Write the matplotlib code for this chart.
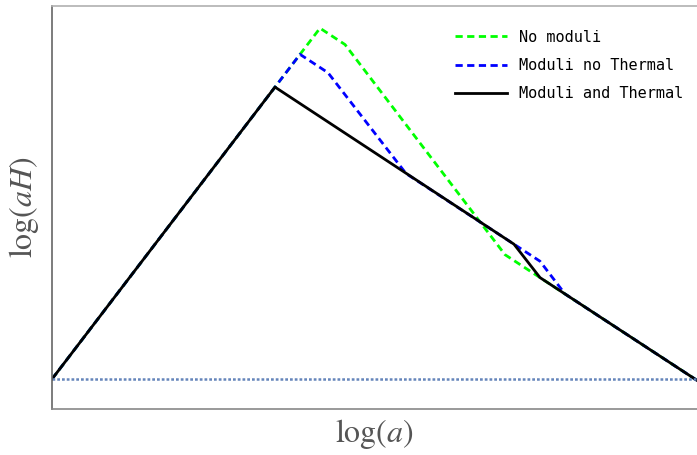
import matplotlib
matplotlib.use("Agg")
import matplotlib.pyplot as plt

# log(a) / log(aH) break points
x_none = [0, 22.3, 26.8, 29.3, 45.3, 48.8, 64.5]
y_none = [0, 22.3, 26.8, 25.55, 9.5, 7.75, -0.1]

x_mod = [0, 22.3, 24.8, 27.6, 35.4, 46.2, 48.8, 51.3, 64.5]
y_mod = [0, 22.3, 24.8, 23.4, 15.7, 10.3, 9.0, 6.5, -0.1]

x_therm = [0, 22.3, 46.2, 48.8, 64.5]
y_therm = [0, 22.3, 10.3, 7.75, -0.1]

x_base = [0, 64.5]
y_base = [0, 0]

labels = ["No moduli", "Moduli no Thermal", "Moduli and Thermal"]

plt.rcParams["mathtext.fontset"] = "stix"

fig = plt.figure(figsize=(6.97, 4.55), dpi=100)
ax = fig.add_axes([0.0746, 0.101, 0.9254, 0.886])

dash = (0, (2.6, 1.6))
ax.plot(x_none, y_none, color="#00ff00", ls=dash, lw=2, label=labels[0])
ax.plot(x_mod, y_mod, color="#0000ff", ls=dash, lw=2, label=labels[1])
ax.plot(x_therm, y_therm, color="black", lw=2, label=labels[2])
ax.plot(x_base, y_base, color="#6585bb", ls=(0, (1.1, 0.8)), lw=1.8)

ax.set_xlim(0, 64.5)
ax.set_ylim(-2.29, 28.5)
ax.set_xticks([])
ax.set_yticks([])

ax.spines["top"].set_color("#b0b0b0")
ax.spines["left"].set_color("#666666")
ax.spines["bottom"].set_color("#888888")
ax.spines["right"].set_visible(False)
for s in ax.spines.values():
    s.set_linewidth(1.2)

ax.set_xlabel(r"$\log(a)$", fontsize=23, color="#555555", labelpad=6)
ax.set_ylabel(r"$\log(aH)$", fontsize=23, color="#555555", labelpad=8)

ax.legend(loc="upper right", frameon=False, prop={"family": "DejaVu Sans Mono", "size": 11},
          handlelength=3.4, handletextpad=0.78, labelspacing=0.86,
          bbox_to_anchor=(1.0, 0.975))

fig.savefig("out.png", dpi=100)
